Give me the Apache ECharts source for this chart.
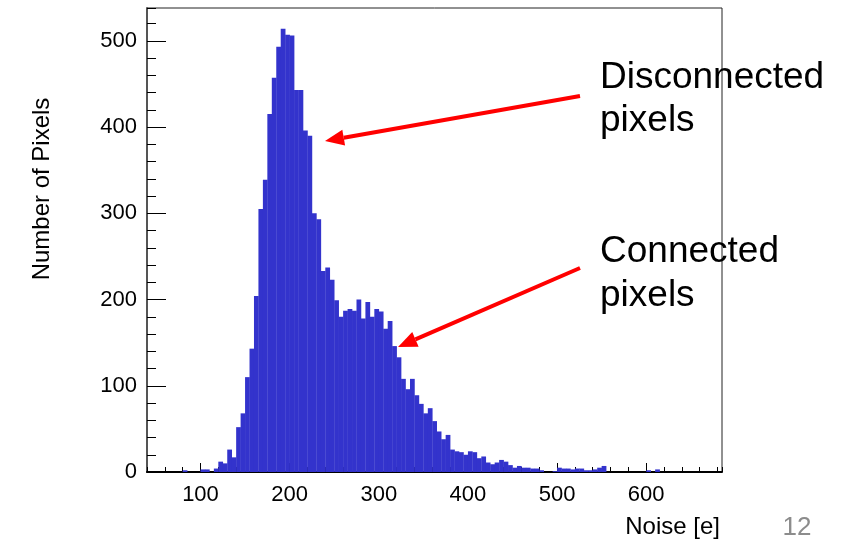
<!DOCTYPE html>
<html>
<head>
<meta charset="utf-8">
<script src="https://cdn.jsdelivr.net/npm/echarts@6/dist/echarts.min.js"></script>
<style>
  html, body { margin: 0; padding: 0; background: #fff; }
  #chart { width: 845px; height: 541px; }
</style>
</head>
<body>
<div id="chart"></div>
<script>
// noise histogram, 5 e bins starting at 40
var binStart = 40;
var binWidth = 5;
var counts = [
  0, 0, 0, 0, 0, 0, 0, 0, 2, 0,
  0, 0, 3, 3, 0, 4, 12, 10, 26, 17,
  52, 68, 110, 143, 204, 305, 339, 415, 457, 493,
  514, 507, 506, 443, 443, 396, 390, 300, 293, 233,
  237, 223, 199, 180, 187, 189, 187, 200, 178, 197,
  180, 189, 186, 166, 175, 146, 133, 108, 96, 108,
  89, 79, 68, 74, 59, 47, 38, 43, 26, 24,
  23, 20, 24, 23, 16, 18, 11, 9, 11, 14,
  12, 8, 5, 7, 5, 5, 4, 4, 2, 0,
  0, 1, 5, 4, 4, 3, 4, 4, 2, 2,
  3, 5, 7, 0, 0, 0, 0, 0, 0, 0,
  0, 0, 2, 0, 3
];
var xTicks = [100, 200, 300, 400, 500, 600];
var yTicks = [0, 100, 200, 300, 400, 500];
var xMin = 40, xMax = 685;
var yMax = 538;

var histData = [];
for (var i = 0; i < counts.length; i++) {
  histData.push([binStart + i * binWidth, binStart + (i + 1) * binWidth, counts[i]]);
}

var font = '"Liberation Sans", Arial, sans-serif';

// red annotation arrow, tail -> tip
function arrow(x1, y1, x2, y2) {
  var dx = x2 - x1, dy = y2 - y1;
  var len = Math.sqrt(dx * dx + dy * dy);
  var ux = dx / len, uy = dy / len;
  var hl = 19, hw = 8;
  var bx = x2 - ux * hl, by = y2 - uy * hl;
  return [
    { type: 'line', shape: { x1: x1, y1: y1, x2: bx, y2: by },
      style: { stroke: '#ff0000', lineWidth: 4 } },
    { type: 'polygon', shape: { points: [[x2, y2], [bx - uy * hw, by + ux * hw], [bx + uy * hw, by - ux * hw]] },
      style: { fill: '#ff0000' } }
  ];
}

var chart = echarts.init(document.getElementById('chart'));

var option = {
  animation: false,
  grid: { left: 147, right: 123, top: 8, bottom: 69, show: true, borderColor: '#222', borderWidth: 1 },
  xAxis: [
    {
      type: 'value', min: xMin, max: xMax,
      axisLine: { lineStyle: { color: '#000', width: 2 } },
      axisTick: { inside: true, length: 9, customValues: xTicks, lineStyle: { color: '#000', width: 1 } },
      axisLabel: { customValues: xTicks, margin: 12, fontSize: 22, color: '#000', fontFamily: font },
      splitLine: { show: false }
    },
    {
      type: 'value', min: xMin, max: xMax, interval: 20, position: 'bottom',
      axisLine: { show: false },
      axisTick: { inside: true, length: 5, lineStyle: { color: '#000', width: 1 } },
      axisLabel: { show: false },
      splitLine: { show: false }
    }
  ],
  yAxis: [
    {
      type: 'value', min: 0, max: yMax,
      axisLine: { show: true, lineStyle: { color: '#555', width: 2 } },
      axisTick: { show: true, inside: true, length: 19, customValues: yTicks, lineStyle: { color: '#000', width: 1 } },
      axisLabel: { customValues: yTicks, margin: 10, fontSize: 22, color: '#000', fontFamily: font },
      splitLine: { show: false }
    },
    {
      type: 'value', min: 0, max: yMax, interval: 20, position: 'left',
      axisLine: { show: false },
      axisTick: { show: true, inside: true, length: 9, lineStyle: { color: '#000', width: 1 } },
      axisLabel: { show: false },
      splitLine: { show: false }
    }
  ],
  series: [{
    type: 'custom',
    xAxisIndex: 0,
    yAxisIndex: 0,
    data: histData,
    renderItem: function (params, api) {
      var p0 = api.coord([api.value(0), api.value(2)]);
      var p1 = api.coord([api.value(1), 0]);
      return {
        type: 'rect',
        shape: { x: p0[0], y: p0[1], width: p1[0] - p0[0] + 0.3, height: p1[1] - p0[1] },
        style: { fill: '#3333cc' }
      };
    }
  }],
  graphic: [].concat(
    arrow(580, 96, 325, 141),
    arrow(580, 268, 398, 347),
    [
      { type: 'text', left: 600, top: 59, style: { text: 'Disconnected', font: '37px ' + font, fill: '#000' } },
      { type: 'text', left: 600, top: 102, style: { text: 'pixels', font: '37px ' + font, fill: '#000' } },
      { type: 'text', left: 600, top: 233, style: { text: 'Connected', font: '37px ' + font, fill: '#000' } },
      { type: 'text', left: 600, top: 277, style: { text: 'pixels', font: '37px ' + font, fill: '#000' } },
      { type: 'text', x: 720, y: 527, style: { text: 'Noise [e]', font: '24px ' + font, fill: '#000', align: 'right', verticalAlign: 'middle' } },
      { type: 'text', x: 42, y: 189, rotation: Math.PI / 2, style: { text: 'Number of Pixels', font: '24px ' + font, fill: '#000', align: 'center', verticalAlign: 'middle' } },
      { type: 'text', x: 797, y: 528, style: { text: '12', font: '26px ' + font, fill: '#8c8c8c', align: 'center', verticalAlign: 'middle' } }
    ]
  )
};

chart.setOption(option);
</script>
</body>
</html>
